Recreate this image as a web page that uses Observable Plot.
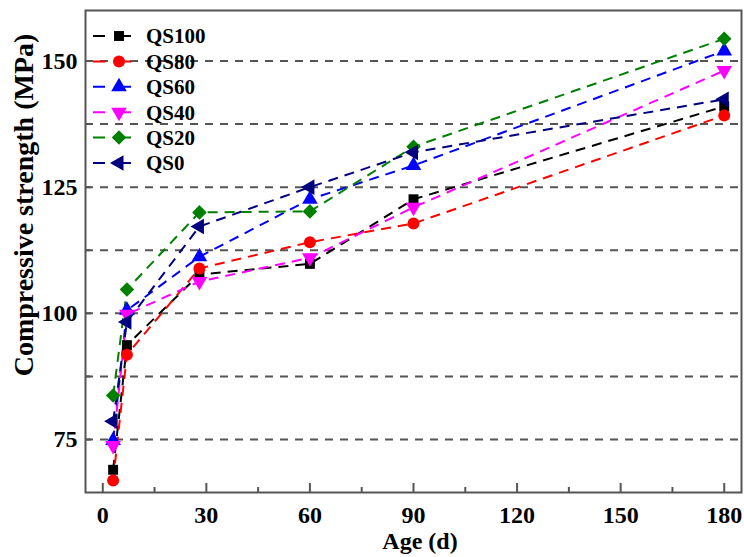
<!DOCTYPE html>
<html><head><meta charset="utf-8">
<script src="https://cdn.jsdelivr.net/npm/d3@7"></script>
<script src="https://cdn.jsdelivr.net/npm/@observablehq/plot@0.6"></script>
<style>
  html,body{margin:0;padding:0;background:#fff}
</style>
</head><body><div id="chart"></div>
<script>
// ---- data ----
const ages = [3, 7, 28, 60, 90, 180];
const seriesNames = ["QS100", "QS80", "QS60", "QS40", "QS20", "QS0"];
const QS100 = [69.0, 93.7, 107.7, 109.8, 122.6, 141.0];
const QS80  = [66.9, 91.8, 108.9, 114.1, 117.8, 139.2];
const QS60  = [74.8, 100.6, 111.2, 122.6, 129.3, 152.0];
const QS40  = [73.8, 99.8, 106.3, 111.0, 121.0, 148.1];
const QS20  = [83.7, 104.7, 120.0, 120.2, 133.0, 154.4];
const QS0   = [78.6, 98.3, 117.2, 125.0, 131.9, 142.4];
const seriesValues = [QS100, QS80, QS60, QS40, QS20, QS0];
const colors = ["#000000", "#ff0000", "#0000ff", "#ff00ff", "#008000", "#00007f"];
const symbols = ["square", "circle", "triangle", "triangle", "square", "triangle"];
const rotations = [0, 0, 0, 180, 45, -90];
const radii = [5.6, 6, 5.8, 5.8, 5.8, 5.8];
const xTicks = [0, 30, 60, 90, 120, 150, 180];
const xMinorTicks = [15, 45, 75, 105, 135, 165];
const yTicks = [75, 100, 125, 150];
const yMinorTicks = [87.5, 112.5, 137.5];
const yGrid = [75, 87.5, 100, 112.5, 125, 137.5, 150];
const xTitle = "Age (d)";
const yTitle = "Compressive strength (MPa)";

const rows = seriesNames.map((name, i) =>
  ages.map((a, j) => ({series: name, age: a, value: seriesValues[i][j]})));

const font = "'Liberation Serif', 'Times New Roman', serif";

const marks = [
  Plot.gridY(yGrid, {stroke: "#555", strokeOpacity: 1, strokeWidth: 2, strokeDasharray: "8,7"}),
  Plot.frame({stroke: "#555", strokeWidth: 2}),
  Plot.axisX(xTicks, {tickSize: -9, fill: "none", label: null, stroke: "#555", strokeWidth: 2}),
  Plot.axisX(xMinorTicks, {tickSize: -5, fill: "none", label: null, stroke: "#555", strokeWidth: 2}),
  Plot.axisX(xTicks, {tickSize: 0, tickPadding: 13, label: null, fontSize: 24, fontWeight: "bold"}),
  Plot.axisY(yTicks, {tickSize: -6, fill: "none", label: null, stroke: "#555", strokeWidth: 2}),
  Plot.axisY(yMinorTicks, {tickSize: -5, fill: "none", label: null, stroke: "#555", strokeWidth: 2}),
  Plot.axisY(yTicks, {tickSize: 0, tickPadding: 8, label: null, fontSize: 24, fontWeight: "bold"})
];
rows.forEach((r, i) => {
  marks.push(Plot.line(r, {x: "age", y: "value", stroke: colors[i], strokeWidth: 2,
    strokeDasharray: "10,7", strokeLinecap: "butt"}));
});
rows.forEach((r, i) => {
  marks.push(Plot.dot(r, {x: "age", y: "value", fill: colors[i], stroke: "none", symbol: symbols[i], r: radii[i], rotate: rotations[i]}));
});

const chart = Plot.plot({
  width: 744,
  height: 557,
  marginLeft: 85,
  marginRight: 3,
  marginTop: 10,
  marginBottom: 65,
  style: {fontFamily: font, fontWeight: "bold", background: "#fff", color: "#000"},
  x: {domain: [-5, 185]},
  y: {domain: [64.5, 160]},
  marks
});

const svg = d3.select(chart);

// ---- axis titles ----
svg.append("text")
  .attr("transform", "translate(23,205) rotate(-90)")
  .attr("text-anchor", "middle").attr("dy", "0.35em")
  .attr("font-size", 28).attr("font-weight", "bold").attr("font-family", font)
  .attr("fill", "#000").text(yTitle);
svg.append("text")
  .attr("x", 420).attr("y", 541)
  .attr("text-anchor", "middle").attr("dy", "0.35em")
  .attr("font-size", 24).attr("font-weight", "bold").attr("font-family", font)
  .attr("fill", "#000").text(xTitle);

// ---- legend (inside the plot, top-left) ----
const symbolTypes = {square: d3.symbolSquare, circle: d3.symbolCircle, triangle: d3.symbolTriangle};
const leg = svg.append("g").attr("class", "legend");
seriesNames.forEach((name, i) => {
  const y = 36 + i * 25.4;
  const g = leg.append("g").attr("transform", `translate(0,${y})`);
  g.append("line").attr("x1", 93).attr("x2", 133).attr("y1", 0).attr("y2", 0)
    .attr("stroke", colors[i]).attr("stroke-width", 2).attr("stroke-dasharray", "12,14");
  g.append("path")
    .attr("d", d3.symbol(symbolTypes[symbols[i]], Math.PI * radii[i] * radii[i])())
    .attr("transform", `translate(119,0) rotate(${rotations[i]})`)
    .attr("fill", colors[i]);
  g.append("text").attr("x", 146).attr("y", 0).attr("dy", "0.35em")
    .attr("text-anchor", "start")
    .attr("font-size", 21).attr("font-weight", "bold").attr("font-family", font)
    .attr("fill", "#000").text(name);
});

document.getElementById("chart").appendChild(chart);
</script>
</body></html>
